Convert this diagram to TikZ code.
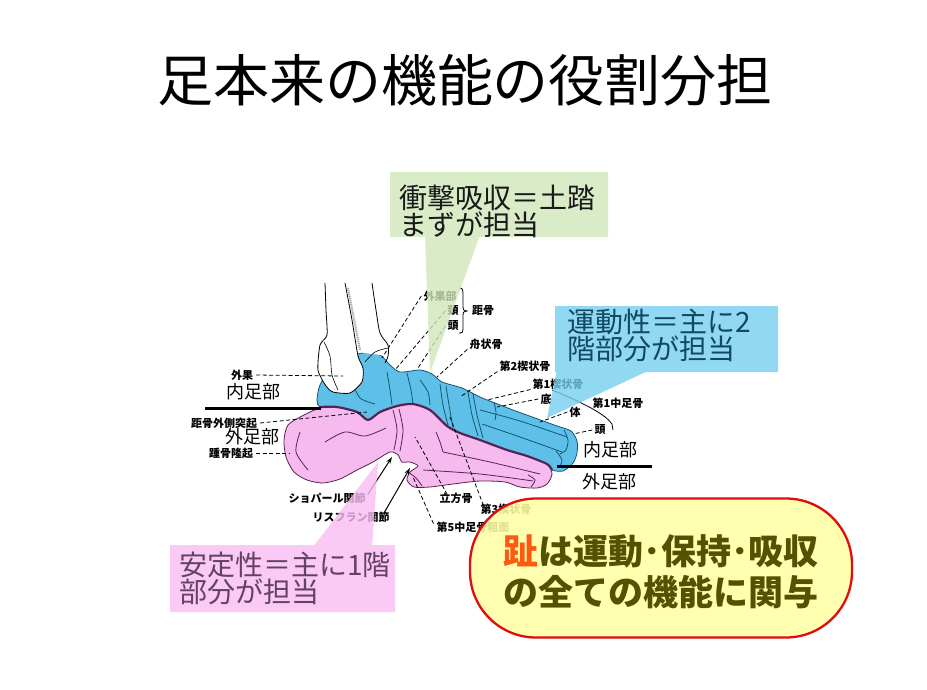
\documentclass[tikz,border=0pt]{standalone}
\usepackage{fontspec}
\setmainfont{Noto Sans CJK JP}
\usetikzlibrary{arrows.meta}
\definecolor{bluefoot}{RGB}{94,192,232}
\definecolor{bluedark}{RGB}{20,85,115}
\definecolor{pinkfoot}{RGB}{246,186,238}
\definecolor{pinkdark}{RGB}{88,35,84}
\definecolor{greenbox}{RGB}{208,232,186}
\definecolor{bluebox}{RGB}{118,208,240}
\definecolor{pinkbox}{RGB}{250,188,244}
\definecolor{yellowbox}{RGB}{255,255,165}
\definecolor{redline}{RGB}{226,12,12}
\definecolor{bluetext}{RGB}{18,72,100}
\definecolor{pinktext}{RGB}{100,66,100}
\definecolor{olivetext}{RGB}{82,82,0}
\definecolor{toecolor}{RGB}{255,88,15}
\tikzset{
  lbl/.style={font=\fontsize{11}{11}\selectfont\bfseries, inner sep=0pt},
  bigl/.style={font=\fontsize{18}{18}\selectfont, inner sep=0pt},
  ldash/.style={dash pattern=on 4pt off 2.5pt, line width=0.8pt},
  bline/.style={bluedark, line width=0.8pt},
  pline/.style={pinkdark, line width=0.8pt},
  calltext/.style={font=\fontsize{28}{26}\selectfont, align=left, inner sep=0pt, anchor=west, text opacity=1},
  arr/.style={-{Stealth[length=7pt,width=4.5pt]}, line width=1pt},
}
\begin{document}
\begin{tikzpicture}[x=1pt,y=-1pt]
\useasboundingbox (0,0) rectangle (927,689);
\fill[white] (0,0) rectangle (927,689);

% title
\node[font=\fontsize{56}{56}\selectfont, inner sep=0pt] (title) at (465,80) {足本来の機能の役割分担};

% ---- foot: lateral (pink) ----
\filldraw[fill=pinkfoot, draw=pinkdark, line width=0.8pt] plot[smooth cycle, tension=0.45] coordinates {
 (288,425) (302,416) (320,408) (337,407) (357,412) (368,420) (380,412) (397,406) (413,404)
 (430,410) (447,426) (460,433) (480,440) (507,450) (527,456) (547,464) (552,474) (547,484)
 (537,488) (520,487) (505,482) (480,481) (453,484) (430,487) (414,487) (407,480) (410,472)
 (418,466) (410,462) (402,462) (398,455) (390,452) (373,462) (357,470) (340,479) (323,483)
 (307,480) (294,472) (286,457) (284,440)};
% ---- foot: medial (blue) ----
\filldraw[fill=bluefoot, draw=bluedark, line width=0.8pt] plot[smooth cycle, tension=0.45] coordinates {
 (317,400) (320,385) (332,366) (350,357) (363,353) (380,355) (390,365) (400,372) (420,370)
 (432,374) (442,382) (462,388) (480,397) (495,403) (513,410) (535,418) (557,426) (571,431)
 (577,441) (577,453) (573,463) (563,471) (552,470) (547,464) (527,456) (507,450) (480,440)
 (460,433) (447,426) (430,410) (413,404) (397,406) (380,412) (368,420) (357,412) (337,407)
 (320,407)};

% interior bone lines (blue)
\draw[bline] plot[smooth] coordinates {(387,372) (390,390) (392,405)};
\draw[bline] plot[smooth] coordinates {(407,373) (411,390) (413,404)};
\draw[bline] plot[smooth] coordinates {(440,384) (443,405) (448,425)};
\draw[bline] plot[smooth] coordinates {(446,386) (449,405) (453,428)};
\draw[bline] plot[smooth] coordinates {(468,392) (472,415) (478,436)};
\draw[bline] plot[smooth] coordinates {(473,394) (477,415) (483,438)};
\draw[bline] plot[smooth] coordinates {(494,402) (496,412) (495,420)};
\draw[bline] plot[smooth] coordinates {(480,410) (520,421) (567,437)};
\draw[bline] plot[smooth] coordinates {(482,424) (520,437) (562,452)};
\draw[bline] plot[smooth] coordinates {(564,430) (568,440) (566,450) (560,454)};
\draw[bline] plot[smooth] coordinates {(556,451) (562,460) (559,468)};
\draw[bline] plot[smooth] coordinates {(345,370) (352,382) (360,398) (375,404)};
\draw[bline] plot[smooth] coordinates {(420,380) (428,392) (430,405)};

% interior bone lines (pink)
\draw[pline] plot[smooth] coordinates {(393,410) (397,430) (394,450)};
\draw[pline] plot[smooth] coordinates {(399,409) (403,430) (400,451)};
\draw[pline] plot[smooth] coordinates {(436,432) (440,442) (443,452)};
\draw[pline] plot[smooth] coordinates {(443,452) (490,462) (540,474)};
\draw[pline] plot[smooth] coordinates {(423,470) (480,474) (533,481)};
\draw[pline] plot[smooth] coordinates {(528,475) (535,480) (531,487)};
\draw[pline] plot[smooth] coordinates {(325,442) (345,432) (365,436) (386,428)};
\draw[pline] plot[smooth] coordinates {(300,432) (296,452) (308,470)};
\draw[pline] plot[smooth] coordinates {(408,472) (416,478) (422,486)};

% divider line between medial and lateral
\draw[pinkdark, line width=2.2pt] plot[smooth, tension=0.45] coordinates {
 (320,407) (337,407) (357,412) (368,420) (380,412) (397,406) (413,404) (430,410) (447,426)
 (460,433) (480,440) (507,450) (527,456) (547,464) (552,470)};

% ---- leg bones (white) ----
\fill[white] plot[smooth cycle, tension=0.4] coordinates {
 (325,283) (326,310) (327,335) (320,345) (318,370) (326,386) (333,392) (350,393) (362,382)
 (363,368) (358,356) (352,320) (345,283)};
\draw[black, line width=0.8pt] plot[smooth, tension=0.4] coordinates {
 (325,283) (326,310) (327,335) (320,345) (318,370) (326,386) (333,392) (350,393) (362,382)
 (363,368) (358,356) (352,320) (345,283)};
\draw[black, line width=0.6pt] plot[smooth] coordinates {(324,342) (330,356) (332,375) (338,390)};
\fill[white] (347,283) -- (372,283) -- (380,333) -- (388,345) -- (388,355) -- (380,355) -- (363,353) -- (358,340) -- cycle;
\draw[gray!70, line width=2pt, dash pattern=on 1.2pt off 0.8pt] (348,288) -- (360,350);
\draw[black, line width=0.8pt] plot[smooth] coordinates {(372,283) (376,310) (380,333) (388,345) (388,356) (385,363)};
\draw[black, line width=0.6pt] plot[smooth] coordinates {(365,362) (375,352) (388,348)};

% ---- side division lines ----
\draw[black, line width=3pt] (205,408) -- (321,408);
\draw[black, line width=3pt] (557,466) -- (652,466);
\node[bigl] (naiL) at (253,392) {内足部};
\node[bigl] (gaiL) at (252,437) {外足部};
\node[bigl] (naiR) at (610,450) {内足部};
\node[bigl] (gaiR) at (609,482) {外足部};

% ---- small labels ----
\node[lbl] (gaika) at (242,375) {外果};
\node[lbl] (kyogai) at (224,423) {距骨外側突起};
\node[lbl] (shoko) at (231,453) {踵骨隆起};
\node[lbl] (gkb) at (440,296) {外果部};
\node[lbl] (kei) at (453,311) {頚};
\node[lbl] (tou) at (453,326) {頭};
\node[lbl] (kyo) at (483,311) {距骨};
\node[lbl] (shu) at (486,344) {舟状骨};
\node[lbl] (k2) at (525,366) {第2楔状骨};
\node[lbl] (k1) at (558,384) {第1楔状骨};
\node[lbl] (tei) at (546,399) {底};
\node[lbl] (tai) at (575,412) {体};
\node[lbl] (tou2) at (600,430) {頭};
\node[lbl] (mt1) at (618,403) {第1中足骨};
\node[lbl] (rip) at (456,498) {立方骨};
\node[lbl] (k3) at (506,509) {第3楔状骨};
\node[lbl] (mt5) at (473,527) {第5中足骨粗面};
\node[lbl] (chop) at (327,498) {ショパール関節};
\node[lbl] (lisf) at (351,517) {リスフラン関節};

\coordinate (cGaika) at (343,376);
\coordinate (cKyogai) at (367,412);
\coordinate (cShoko) at (290,453);
\coordinate (cGkb) at (382,358);
\coordinate (cKei) at (395,370);
\coordinate (cTou) at (418,368);
\coordinate (cShu) at (437,377);
\coordinate (cK2) at (460,397);
\coordinate (cK1) at (487,400);
\coordinate (cTei) at (497,407);
\coordinate (cTai) at (540,422);
\coordinate (cTou2) at (573,434);
\coordinate (cRip) at (415,437);
\coordinate (cK3) at (450,417);
\coordinate (cMt5) at (413,477);
\coordinate (cChop) at (392,457);
\coordinate (cLisf) at (410,468);

\draw[ldash] ([xshift=3pt]gaika.east) -- (cGaika);
\draw[ldash] ([xshift=3pt]kyogai.east) -- (cKyogai);
\draw[ldash] ([xshift=3pt]shoko.east) -- (cShoko);
\draw[ldash] ([xshift=-2pt]gkb.west) -- (cGkb);
\draw[ldash] ([xshift=-2pt]kei.west) -- (cKei);
\draw[ldash] ([xshift=-2pt]tou.west) -- (cTou);
\draw[ldash] ([xshift=-2pt]shu.south west) -- (cShu);
\draw[ldash] ([xshift=-2pt]k2.south west) -- (cK2);
\draw[ldash] ([xshift=-2pt]k1.south west) -- (cK1);
\draw[ldash] ([xshift=-2pt]tei.west) -- (cTei);
\draw[ldash] ([xshift=-2pt]tai.west) -- (cTai);
\draw[ldash] ([xshift=-2pt]tou2.west) -- (cTou2);
\draw[ldash] ([xshift=8pt,yshift=-2pt]rip.north west) -- (cRip);
\draw[ldash] ([xshift=3pt,yshift=-2pt]k3.north west) -- (cK3);
\draw[ldash] ([xshift=-3pt,yshift=-2pt]mt5.north west) -- (cMt5);
\draw[arr] ([xshift=2pt,yshift=-2pt]chop.north east) -- (cChop);
\draw[arr] ([xshift=-6pt,yshift=-2pt]lisf.north east) -- (cLisf);

% brace for talus
\draw[black, line width=0.8pt] (459,288) .. controls (463,288) and (463,290) .. (463,293) -- (463,307)
  .. controls (463,310) .. (467,311) .. controls (463,312) .. (463,315) -- (463,329)
  .. controls (463,332) and (463,333) .. (459,333);
% bracket for first metatarsal
\draw[black, line width=0.8pt] (552,390) -- (557,392) .. controls (585,404) and (605,414) .. (612,424) -- (613,430);

% ---- callouts ----
\fill[greenbox, fill opacity=0.8] (390,172) rectangle (608,237) (425,235) -- (430,373) -- (480,235) -- cycle;
\node[calltext, text=black!90] (green) at (399,211) {衝撃吸収＝土踏\\まずが担当};

\fill[bluebox, fill opacity=0.8] (555,306) rectangle (778,372) (557,370) -- (547,418) -- (650,370) -- cycle;
\node[calltext, text=bluetext] (blue) at (567,335) {運動性＝主に2\\階部分が担当};

\fill[pinkbox, fill opacity=0.8] (170,545) rectangle (395,612) (313,547) -- (372,547) -- (378,462) -- cycle;
\node[calltext, text=pinktext] (pink) at (179,578) {安定性＝主に1階\\部分が担当};

\node[draw=redline, line width=2.3pt, fill=yellowbox, fill opacity=0.88, draw opacity=1, text opacity=1,
      rounded corners=66pt, minimum width=382pt, minimum height=139pt, inner sep=0pt] (ybox) at (661,568) {};
\node[font=\fontsize{35}{41}\selectfont\bfseries, text=olivetext, align=center, inner sep=0pt] (ytext) at (661,572)
  {{\color{toecolor}趾}は運動･保持･吸収\\の全ての機能に関与};
\end{tikzpicture}
\end{document}
